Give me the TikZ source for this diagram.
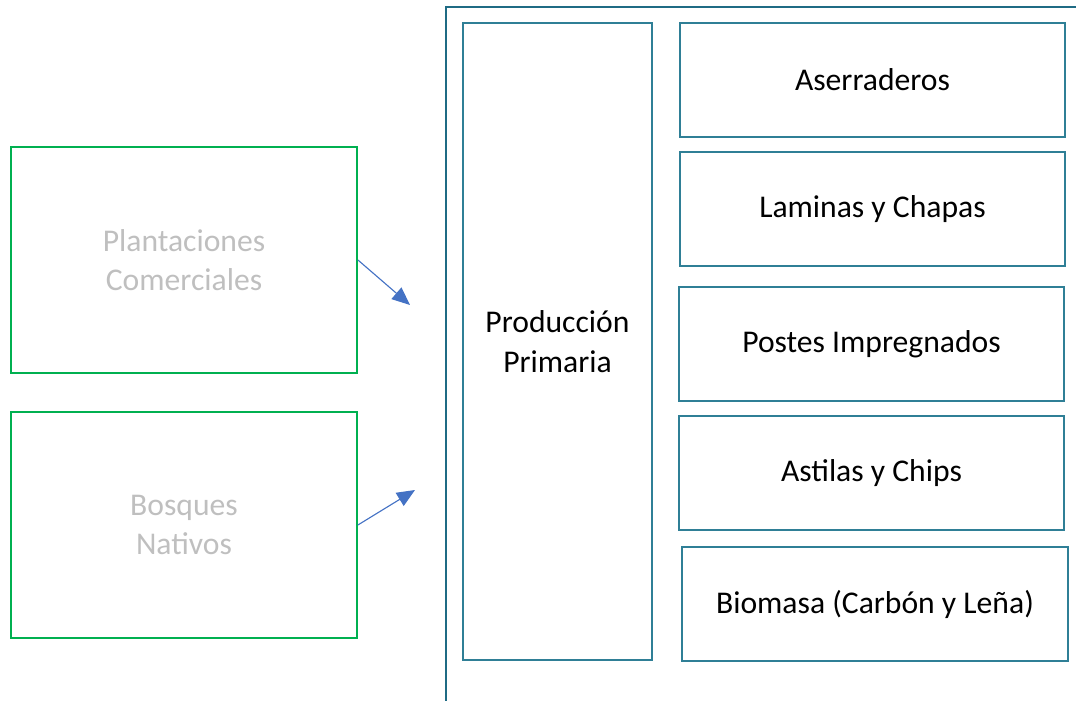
\documentclass[tikz,border=0pt]{standalone}
\usepackage{fontspec}
\setmainfont{Carlito}
\usepackage{xcolor}
\usepackage{tikz}
\usetikzlibrary{arrows.meta,positioning}
\definecolor{framecol}{HTML}{1F6B84}
\definecolor{boxcol}{HTML}{2F7F96}
\definecolor{forestgreen}{HTML}{00B050}
\definecolor{arrowblue}{HTML}{4472C4}
\definecolor{lightgrey}{HTML}{BFBFBF}
\tikzstyle{source} = [rectangle, draw=forestgreen, line width=1.3pt, minimum width=8.65cm, minimum height=5.65cm, text centered, text width=6cm, text=lightgrey, font=\fontsize{22.5}{27.5}\selectfont]
\tikzstyle{product} = [rectangle, draw=boxcol, line width=0.9pt, minimum width=9.625cm, minimum height=2.85cm, text centered, font=\fontsize{22.5}{28}\selectfont]
\tikzstyle{arrow} = [arrowblue, line width=0.8pt, -{Triangle[length=0.45cm,width=0.38cm]}]

\begin{document}
\begin{tikzpicture}
		\useasboundingbox (0,0) rectangle (26.9,17.525);
		\coordinate (plantas) at (4.6,11.025);
		\coordinate (bosques) at (4.6,4.4);
		\coordinate (primaria) at (13.9375,8.9875);
		\coordinate (aserr) at (21.8125,15.525);
		\coordinate (laminas) at (21.8125,12.3);
		\coordinate (postes) at (21.7875,8.925);
		\coordinate (astilas) at (21.7875,5.7);
		\coordinate (biomasa) at (21.875,2.425);
		\coordinate (tip1) at (10.25,9.9);
		\coordinate (tip2) at (10.375,5.275);
		% Outer frame
		\draw[framecol, line width=1.5pt] (11.15,0) -- (11.15,17.35) -- (26.9,17.35);
		% Sources
		\node[source, name=plantas] at (plantas) {Plantaciones Comerciales};
		\node[source, name=bosques] at (bosques) {Bosques\\ Nativos};
		% Primary production
		\node[product, name=primaria, minimum width=4.725cm, minimum height=15.925cm, text width=4cm] at (primaria) {Producción Primaria};
		% Products
		\node[product, name=aserr] at (aserr) {Aserraderos};
		\node[product, name=laminas] at (laminas) {Laminas y Chapas};
		\node[product, name=postes] at (postes) {Postes Impregnados};
		\node[product, name=astilas] at (astilas) {Astilas y Chips};
		\node[product, name=biomasa, minimum width=9.65cm] at (biomasa) {Biomasa (Carbón y Leña)};
		\draw [arrow] (plantas.east)--(tip1);
		\draw [arrow] (bosques.east)--(tip2);
\end{tikzpicture}
\end{document}
